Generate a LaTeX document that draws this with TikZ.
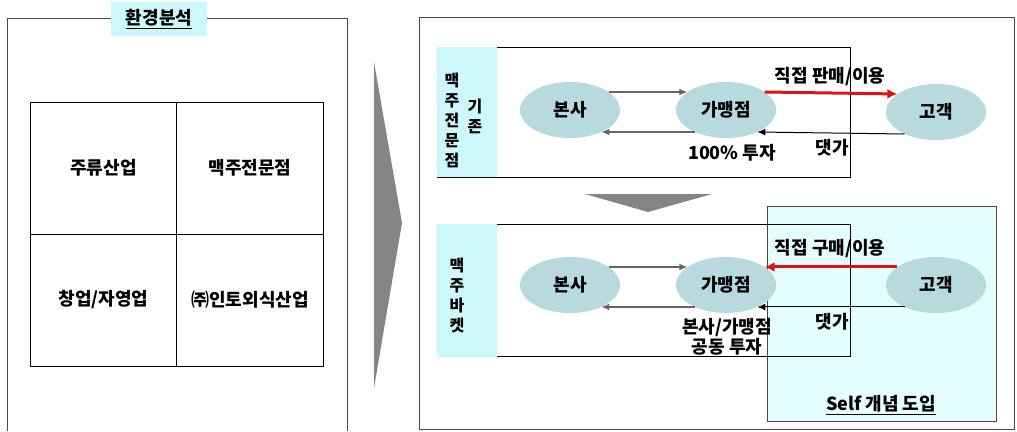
\documentclass[tikz,border=0pt]{standalone}
\usepackage{fontspec}
\setmainfont{Noto Sans CJK KR}
\usetikzlibrary{shapes.geometric,arrows.meta}
\definecolor{oval}{HTML}{B8D9DD}
\definecolor{tag}{HTML}{CCF7FB}
\definecolor{selfarea}{HTML}{E4FDFF}
\definecolor{edge}{HTML}{4A4A4A}
\definecolor{bigarrow}{HTML}{858585}
\definecolor{salered}{HTML}{DC1414}

\begin{document}
\begin{tikzpicture}[x=1pt, y=-1pt,
   every node/.style={font=\fontsize{18}{20}\selectfont\bfseries},
   cell/.style={draw, line width=0.8pt, minimum width=146.5pt, minimum height=132pt},
   party/.style={ellipse, fill=oval, minimum width=100pt, minimum height=56pt, inner sep=0pt},
   tagbox/.style={fill=tag, inner sep=0pt},
   stack/.style={tagbox, align=center, font=\fontsize{16}{20}\selectfont\bfseries},
   flow/.style={draw=gray!80!black, line width=1.5pt, -{Latex[length=8pt,width=7pt]}},
   money/.style={line width=1pt, -{Latex[length=8pt,width=7pt]}},
   sale/.style={draw=salered, line width=3pt, -{Latex[length=10pt,width=10pt]}},
]
   \useasboundingbox (0,0) rectangle (1017,431);

   % environment analysis
   \draw[edge, line width=0.8pt] (7,431) |- (347,18) -- (347,431);
   \node[tagbox, minimum width=96pt, minimum height=34pt] (title) at (159,19) {\underline{환경분석}};
   \node[cell] (c11) at (103.5,168) {주류산업};
   \node[cell] (c12) at (250,168) {맥주전문점};
   \node[cell] (c21) at (103.5,300) {창업/자영업};
   \node[cell] (c22) at (250,300) {㈜인토외식산업};

   \fill[bigarrow] (374,62) -- (402,223) -- (374,388) -- cycle;

   \draw[edge, line width=0.8pt] (419,17) rectangle (1014,429);

   % existing beer shop
   \draw[line width=0.8pt] (437,47) rectangle (850,177);
   \fill[tag] (437,47) rectangle (497,177);
   \node[stack] (tag1) at (452,120) {맥\\주\\전\\문\\점};
   \node[stack] (tag1b) at (475,116) {기\\존};

   \node[party] (hq1) at (570,110) {본사};
   \node[party] (fr1) at (726,110) {가맹점};
   \node[party] (cust1) at (936,112) {고객};
   \draw[flow] (hq1.25) -- (fr1.155);
   \draw[flow] (fr1.215) -- (hq1.-35);
   \draw[sale] (fr1.25) -- (cust1.155);
   \draw[money] (cust1.215) -- (fr1.-35);
   \node (sell1) at (830,77) {직접 판매/이용};
   \node (pay1) at (832,148) {댓가};
   \node (inv1) at (732,153) {100\% 투자};

   \fill[bigarrow] (585,194) -- (712,194) -- (648,212) -- cycle;

   % beer bucket
   \draw[edge, fill=selfarea, line width=0.8pt] (767,206) rectangle (996,421);
   \draw[line width=0.8pt] (437,224) rectangle (850,356);
   \fill[tag] (437,224) rectangle (497,357);
   \node[stack] (tag2) at (457,295) {맥\\주\\바\\켓};

   \node[party] (hq2) at (570,285) {본사};
   \node[party] (fr2) at (726,285) {가맹점};
   \node[party] (cust2) at (936,285) {고객};
   \draw[flow] (hq2.25) -- (fr2.155);
   \draw[flow] (fr2.215) -- (hq2.-35);
   \draw[sale] (cust2.155) -- (fr2.25);
   \draw[money] (cust2.215) -- (fr2.-35);
   \node (buy2) at (830,249) {직접 구매/이용};
   \node (pay2) at (832,322) {댓가};
   \node[align=center] (inv2) at (727,337) {본사/가맹점\\공동 투자};
   \node (selfnote) at (881,405) {\underline{Self 개념 도입}};
\end{tikzpicture}
\end{document}
